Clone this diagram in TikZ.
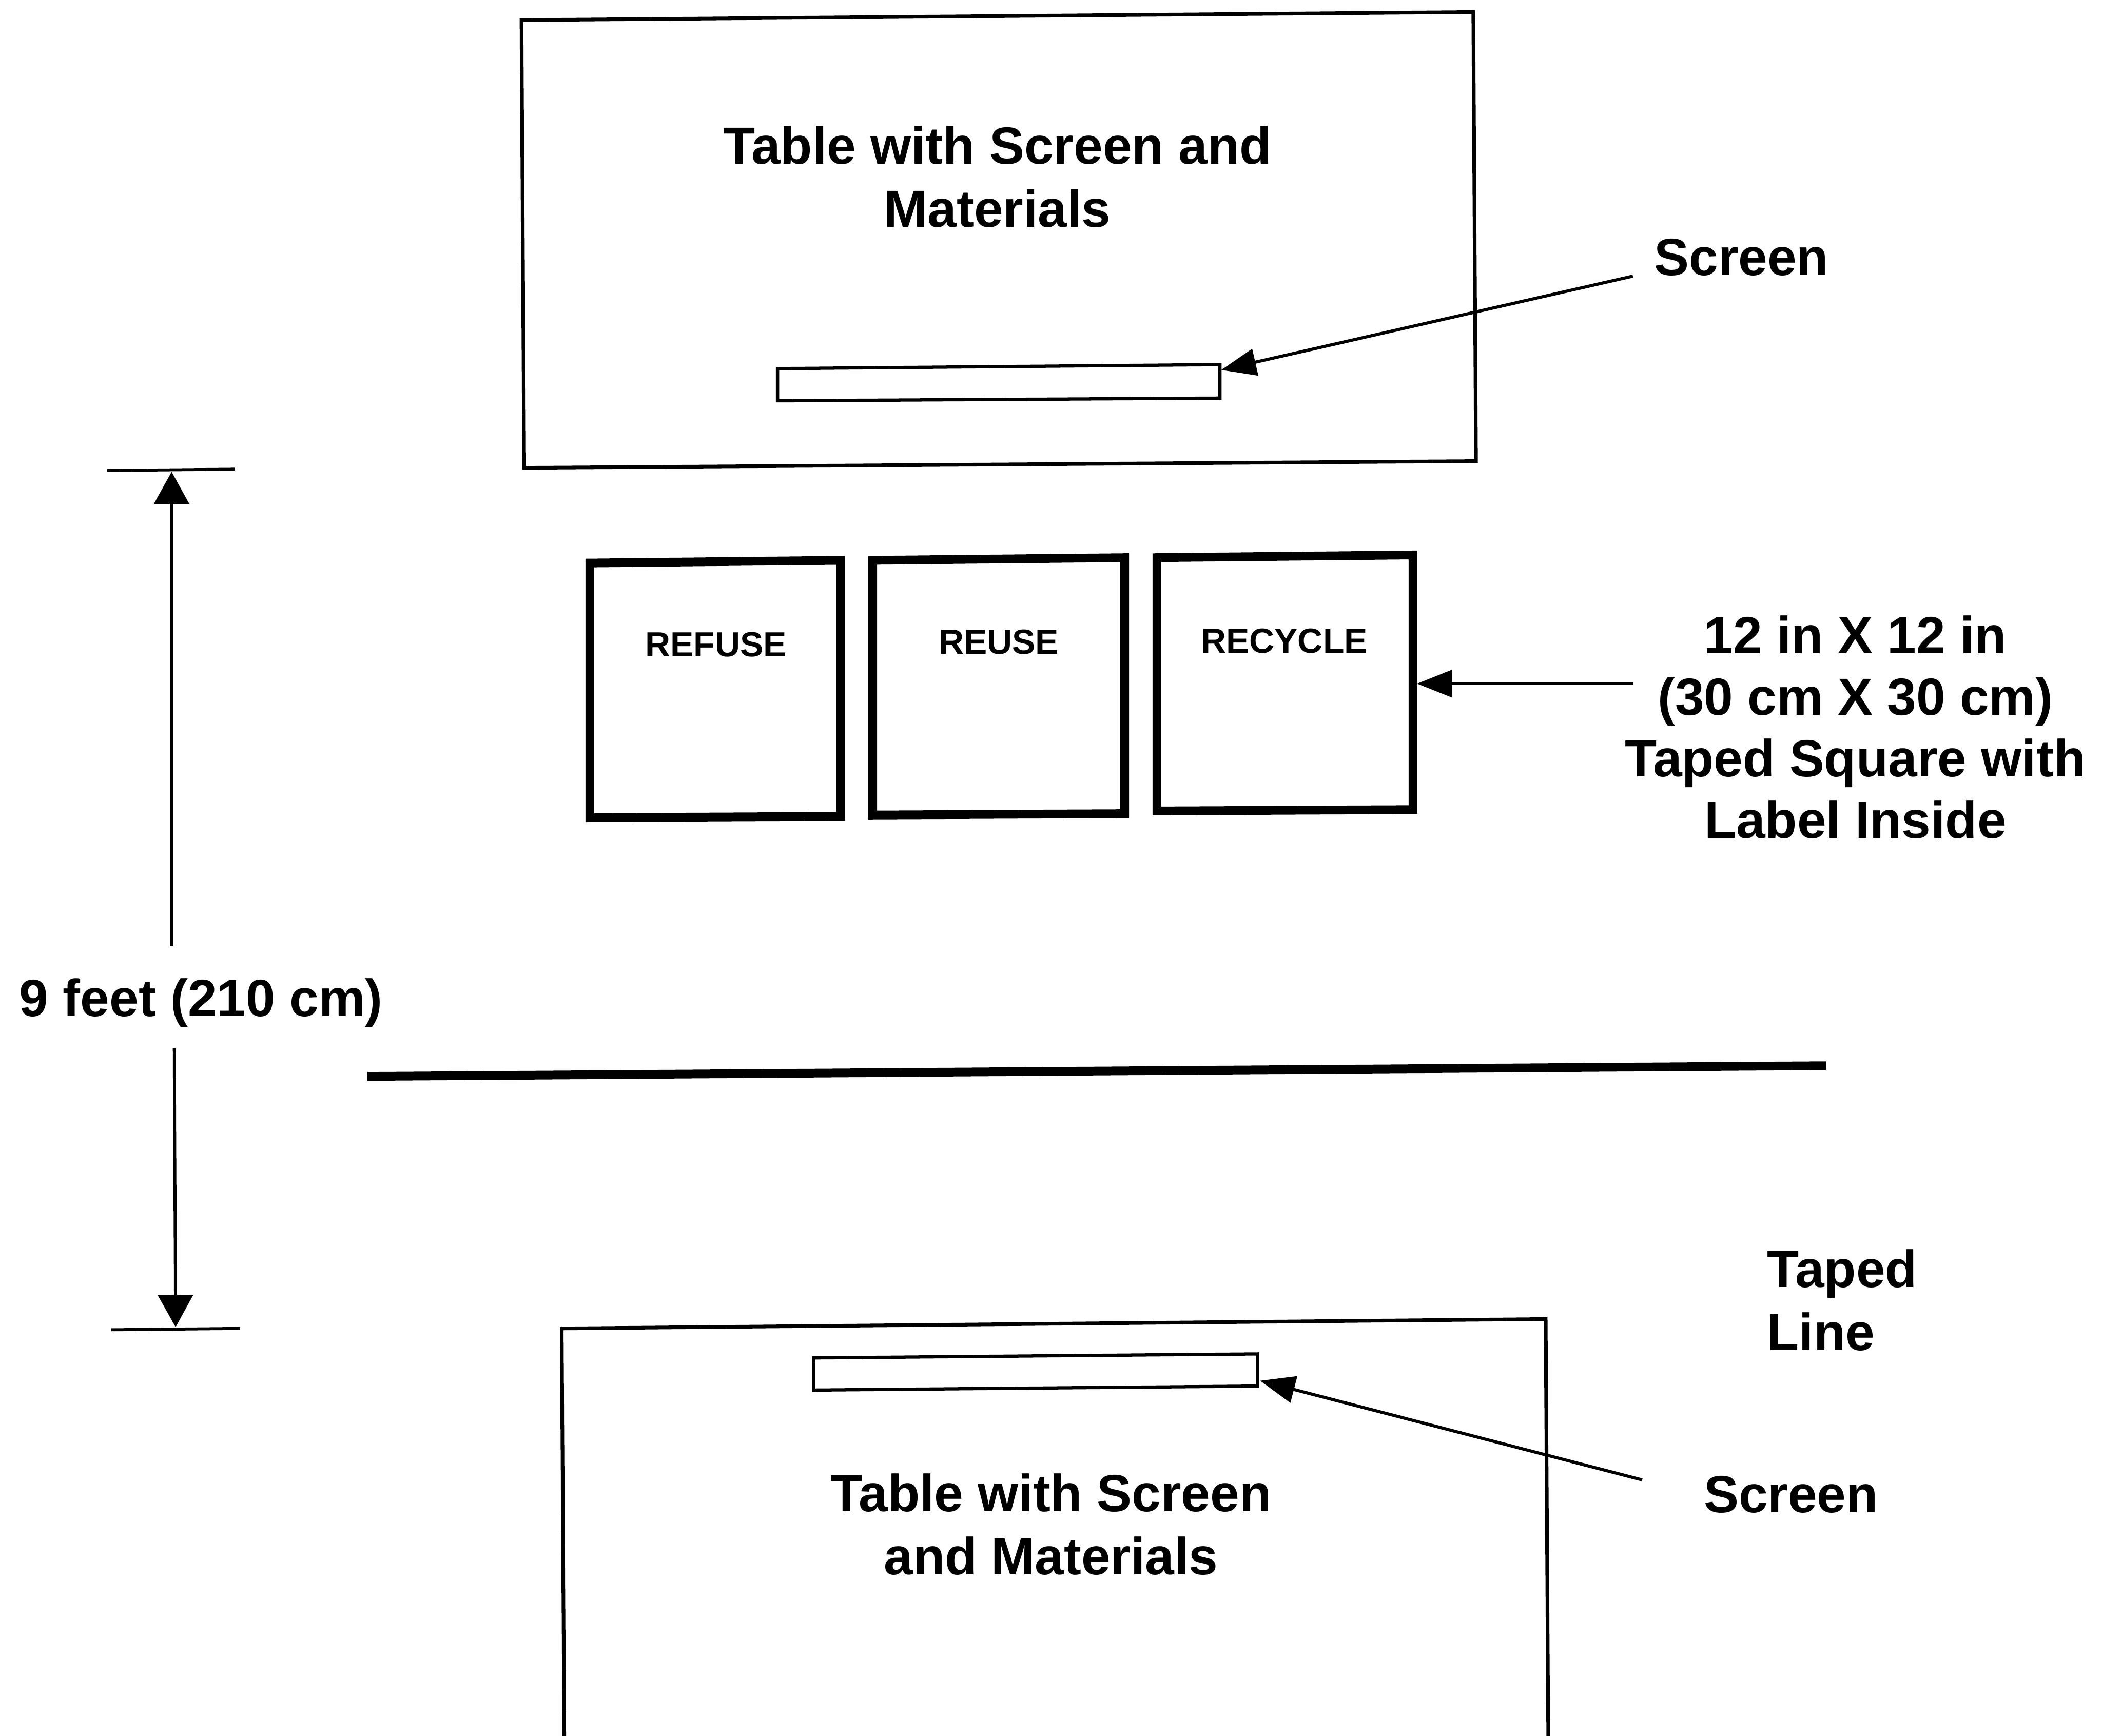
\documentclass[tikz,border=0pt]{standalone}
\usepackage{fontspec}
\setmainfont{Liberation Sans}
\usetikzlibrary{arrows.meta}
\begin{document}
\begin{tikzpicture}[x=1pt,y=-1pt,
  tableline/.style={line width=2.7pt, line join=miter},
  screenbox/.style={line width=2.4pt, line join=miter},
  tapesq/.style={line width=6.5pt, line join=miter},
  tapeline/.style={line width=6.5pt},
  pointer/.style={line width=2.3pt, -{Triangle[length=26pt,width=20pt]}},
  dimarrow/.style={line width=2.2pt, -{Triangle[length=24pt,width=26pt]}},
  dimtick/.style={line width=2.2pt},
  biglabel/.style={font=\bfseries\fontsize{39}{47}\selectfont, align=center, inner sep=0pt},
  sqlabel/.style={font=\bfseries\fontsize{26}{31}\selectfont, inner sep=0pt}]
\useasboundingbox (0,0) rectangle (1568,1295);
\clip (0,0) rectangle (1568,1295);

% ---- top table
\draw[tableline] (389,15) -- (1099,9) -- (1101,344) -- (391,349) -- cycle;
\node[biglabel, anchor=north] (toptxt) at (744,94) {Table with Screen and\\Materials};
\draw[screenbox] (580,275) -- (910,272) -- (910,297) -- (580,299) -- cycle;
\coordinate (topscr) at (911,276);
\node[biglabel] (toplab) at (1299,192) {Screen};
\coordinate (topfrom) at (1218,206);
\draw[pointer] (topfrom) -- (topscr);

% ---- dimension
\draw[dimtick] (80,351) -- (175,350);
\draw[dimtick] (83,992) -- (179,991);
\node[biglabel, anchor=base] (dimlab) at (150,758) {9 feet (210 cm)};
\coordinate (dimtop) at (128,352);
\coordinate (dimbot) at (131,990);
\coordinate (dimup) at (128,706);
\coordinate (dimdn) at (130,782);
\draw[dimarrow] (dimup) -- (dimtop);
\draw[dimarrow] (dimdn) -- (dimbot);

% ---- taped squares
\draw[tapesq] (440,420) -- (627,418) -- (627,609) -- (440,610) -- cycle;
\draw[tapesq] (651,418) -- (839,416) -- (839,607) -- (651,608) -- cycle;
\draw[tapesq] (863,416) -- (1054,414) -- (1054,604) -- (863,605) -- cycle;
\node[sqlabel] (refuse) at (534,481) {REFUSE};
\node[sqlabel] (reuse) at (745,479) {REUSE};
\node[sqlabel] (recycle) at (958,478) {RECYCLE};
\coordinate (sqtip) at (1057,510);
\coordinate (sqfrom) at (1218,510);
\draw[pointer] (sqfrom) -- (sqtip);
\node[biglabel, anchor=north, font=\bfseries\fontsize{39}{46}\selectfont] (sqlab) at (1384,459)
  {12 in X 12 in\\(30 cm X 30 cm)\\Taped Square with\\Label Inside};

% ---- taped line
\coordinate (tl1) at (274,803);
\coordinate (tl2) at (1362,795);
\draw[tapeline] (tl1) -- (tl2);
\node[biglabel, align=left, anchor=north west] (tllab) at (1318,932) {Taped\\Line};

% ---- bottom table
\draw[tableline] (421,1310) -- (419,991) -- (1153,984) -- (1155,1310);
\draw[screenbox] (607,1013) -- (938,1010) -- (938,1034) -- (607,1037) -- cycle;
\node[biglabel, anchor=north] (bottxt) at (784,1099) {Table with Screen\\and Materials};
\coordinate (botscr) at (940,1030);
\node[biglabel] (botlab) at (1336,1115) {Screen};
\coordinate (botfrom) at (1225,1104);
\draw[pointer] (botfrom) -- (botscr);
\end{tikzpicture}
\end{document}
